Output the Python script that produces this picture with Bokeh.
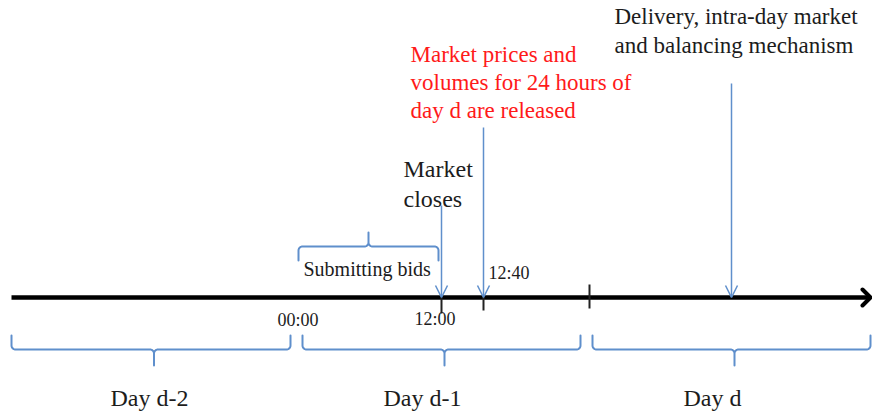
import numpy as np
from bokeh.plotting import figure
from bokeh.models import Range1d, Arrow, OpenHead, ColumnDataSource
from bokeh.core.properties import value
from bokeh.embed import file_html
from bokeh.resources import INLINE

# ---------------- diagram data (diagram units, y grows downward) ----------------
axis_start, axis_end, axis_y = 11, 870, 297

tick_x = [441, 483, 589]
tick_top = [297, 297, 284]
tick_bottom = [313, 310, 308]

time_labels = ["00:00", "12:00", "12:40"]
time_label_x = [277, 414, 488]
time_label_y = [326, 325, 279]

event_x = [441, 483, 731]
event_from_y = [205, 127, 83]

day_names = ["Day d-2", "Day d-1", "Day d"]
day_start = [11, 302, 592]
day_end = [290, 580, 870]
day_label_x = [110, 383, 683]
day_label_y = [406, 406, 406]

bids_start, bids_end, bids_tip = 298, 438, 368

delivery_lines = ["Delivery, intra-day market", "and balancing mechanism"]
delivery_y = [25, 54]
release_lines = ["Market prices and", "volumes for 24 hours of", "day d are released"]
release_y = [63, 91, 119]
close_lines = ["Market", "closes"]
close_y = [177, 207]

BLUE = "#5f8fcc"
FONT = value("Liberation Serif")
INK = "#1c1c1c"

# ---------------- figure ----------------
W, H = 872, 415
p = figure(width=W, height=H, output_backend="svg", toolbar_location=None,
           x_range=Range1d(0, W), y_range=Range1d(H, 0),
           x_axis_location=None, y_axis_location=None, min_border=0)
p.grid.visible = False
p.outline_line_color = None
p.background_fill_color = "white"


def brace(x0, x1, y_end, y_mid, y_tip, xc, r=4.0):
    s = 1.0 if y_tip > y_mid else -1.0
    t = np.linspace(0, np.pi / 2, 8)

    def half(xa, sx):
        xs = [xa]
        ys = [y_end]
        xs += list(xa + sx * r * (1 - np.cos(t)))
        ys += list(y_mid - s * r + s * r * np.sin(t))
        xs += list(xc - sx * r + sx * r * np.sin(t))
        ys += list(y_mid + s * r - s * r * np.cos(t))
        xs.append(xc)
        ys.append(y_tip)
        return xs, ys

    lx, ly = half(x0, 1.0)
    rx, ry = half(x1, -1.0)
    return lx + rx[::-1], ly + ry[::-1]


bx, by = [], []
for a, b in zip(day_start, day_end):
    xs, ys = brace(a, b, 335, 349, 365, (a + b) / 2 + 3)
    bx.append(xs)
    by.append(ys)
xs, ys = brace(bids_start, bids_end, 260, 246, 232, bids_tip)
bx.append(xs)
by.append(ys)
p.multi_line(bx, by, line_color=BLUE, line_width=2, line_join="round", line_cap="round")

# main time axis
p.line([axis_start, axis_end - 1], [axis_y, axis_y], line_color="black", line_width=4.5)
p.line([axis_end - 8, axis_end, axis_end - 8], [axis_y - 8, axis_y, axis_y + 8],
       line_color="black", line_width=4, line_join="round", line_cap="round")

# ticks
p.segment(x0=tick_x, y0=tick_top, x1=tick_x, y1=tick_bottom, line_color="#222222", line_width=2)

# event arrows
src = ColumnDataSource(dict(x=event_x, y0=event_from_y, y1=[axis_y] * len(event_x)))
p.add_layout(Arrow(end=OpenHead(size=12, line_color=BLUE, line_width=1.5),
                   x_start="x", y_start="y0", x_end="x", y_end="y1", source=src,
                   line_color=BLUE, line_width=1.5))


def label(xs, ys, texts, size, color=INK):
    # the renderer places the alphabetic baseline ~0.37 em lower than asked
    ys = [y - 0.37 * size for y in ys]
    p.text(x=xs, y=ys, text=texts, text_font=FONT, text_font_size=f"{size}px",
           text_color=color, text_baseline="alphabetic")


label([614] * 2, delivery_y, delivery_lines, 23)
label([410] * 3, release_y, release_lines, 23, "#ff1a1a")
label([403] * 2, close_y, close_lines, 24)
label([303], [276], ["Submitting bids"], 20)
label(time_label_x, time_label_y, time_labels, 18)
label(day_label_x, day_label_y, day_names, 24)

open("out.html", "w").write(file_html(p, INLINE))
